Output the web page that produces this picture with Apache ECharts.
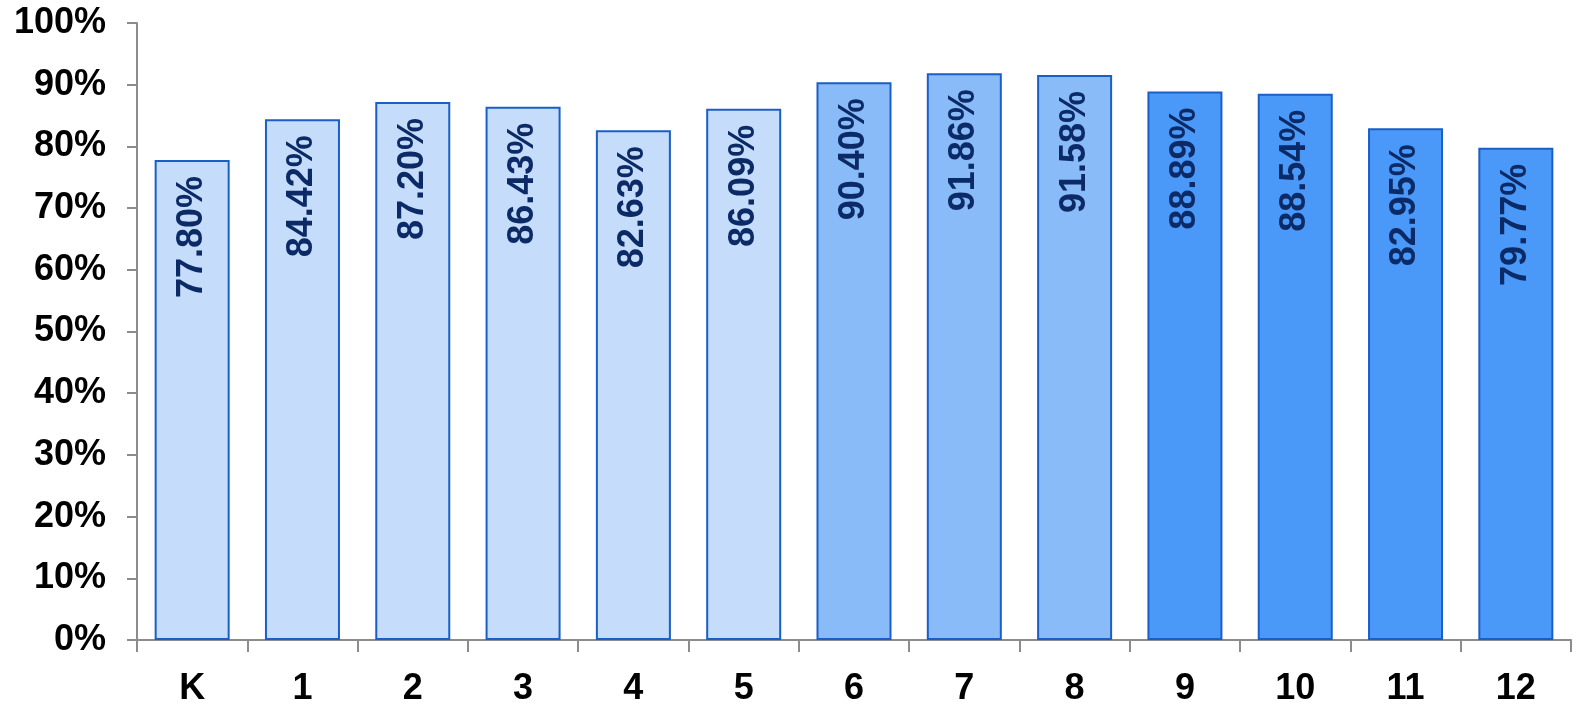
<!DOCTYPE html>
<html><head><meta charset="utf-8">
<script src="https://cdn.jsdelivr.net/npm/echarts@6/dist/echarts.min.js"></script>
<style>html,body{margin:0;padding:0;background:#fff}#c{width:1594px;height:715px}</style>
</head><body><div id="c"></div>
<script>
const categories = ['K','1','2','3','4','5','6','7','8','9','10','11','12'];
const values = [77.80, 84.42, 87.20, 86.43, 82.63, 86.09, 90.40, 91.86, 91.58, 88.89, 88.54, 82.95, 79.77];
const groupColors = ['#C5DDFB','#C5DDFB','#C5DDFB','#C5DDFB','#C5DDFB','#C5DDFB','#88BBF8','#88BBF8','#88BBF8','#4A98F7','#4A98F7','#4A98F7','#4A98F7'];
const yTicks = {min: 0, max: 100, interval: 10};

const chart = echarts.init(document.getElementById('c'));
chart.setOption({
  animation: false,
  grid: {left: 137, right: 23, top: 23, bottom: 75},
  xAxis: {
    type: 'category', data: categories,
    axisLine: {lineStyle: {color: '#8c8c8c', width: 2}},
    axisTick: {show: true, length: 12, lineStyle: {color: '#8c8c8c', width: 2}},
    axisLabel: {margin: 31, color: '#000', fontFamily: 'Liberation Sans', fontWeight: 'bold', fontSize: 36}
  },
  yAxis: {
    type: 'value', min: yTicks.min, max: yTicks.max, interval: yTicks.interval,
    axisLine: {show: true, lineStyle: {color: '#8c8c8c', width: 2}},
    axisTick: {show: true, length: 10, lineStyle: {color: '#8c8c8c', width: 2}},
    splitLine: {show: false},
    axisLabel: {margin: 31, color: '#000', fontFamily: 'Liberation Sans', fontWeight: 'bold', fontSize: 36,
      formatter: v => v + '%'}
  },
  series: [{
    type: 'bar', barWidth: '68%',
    data: values.map((v, i) => ({value: v, itemStyle: {color: groupColors[i]}})),
    itemStyle: {borderColor: '#1A5FC8', borderWidth: 2},
    label: {
      show: true, position: 'insideTop', distance: 16, rotate: 90,
      align: 'right', verticalAlign: 'middle',
      color: '#0B2A66', fontFamily: 'Liberation Sans', fontWeight: 'bold', fontSize: 36,
      formatter: p => p.value.toFixed(2) + '%'
    }
  }]
});
</script></body></html>
